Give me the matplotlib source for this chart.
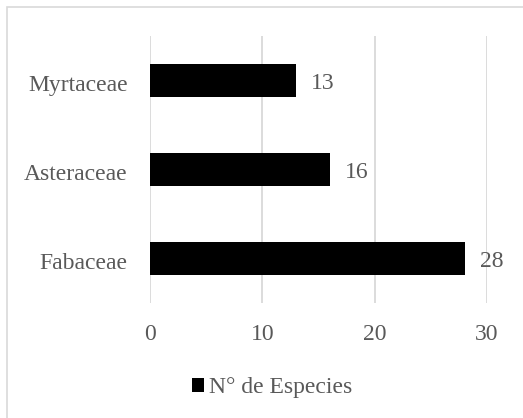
import matplotlib.pyplot as plt
import matplotlib.transforms as mtransforms
from matplotlib.patches import Rectangle

# Data
families = ["Fabaceae", "Asteraceae", "Myrtaceae"]
species = [28, 16, 13]
series_name = "N° de Especies"

plt.rcParams['font.family'] = ['Liberation Serif', 'DejaVu Serif']
txt_color = '#595959'
grid_color = '#d9d9d9'

fig = plt.figure(figsize=(5.23, 4.18), dpi=100)
ax = fig.add_axes([0.2868, 0.2751, 0.6444, 0.6388])

# Chart border (only top and left visible in the reference)
fig.patches.append(Rectangle((6.5/523, -0.1), 1.2, 1.1 - 6.5/418, transform=fig.transFigure,
                             fill=False, edgecolor=grid_color, linewidth=1.2))

ypos = range(len(families))
bars = ax.barh(ypos, species, height=0.37, color='black', label=series_name, zorder=3)

for y, v in zip(ypos, species):
    ax.annotate(str(v), (v, y), xytext=(11, -2), textcoords='offset points',
                va='center', ha='left', fontsize=17, color=txt_color)

ax.set_xlim(0, 30)
ax.set_ylim(-0.5, 2.5)
ax.set_xticks([0, 10, 20, 30])
ax.set_yticks(list(ypos))
ax.set_yticklabels(families)
ax.tick_params(axis='both', length=0, labelsize=17, labelcolor=txt_color)
ax.tick_params(axis='y', pad=16)
ax.tick_params(axis='x', pad=15)
# nudge the category labels down a little
shift = mtransforms.ScaledTranslation(0, -2/72, fig.dpi_scale_trans)
for lab in ax.get_yticklabels():
    lab.set_transform(lab.get_transform() + shift)
ax.grid(axis='x', color=grid_color, linewidth=1.3, zorder=0)
for s in ax.spines.values():
    s.set_visible(False)

fig.legend(handles=[bars], labels=[series_name], loc='center', bbox_to_anchor=(0.52, 0.072),
           frameon=False, fontsize=17, labelcolor=txt_color,
           handlelength=0.5, handleheight=0.5, handletextpad=0.2)

fig.savefig("out.png", dpi=100)
